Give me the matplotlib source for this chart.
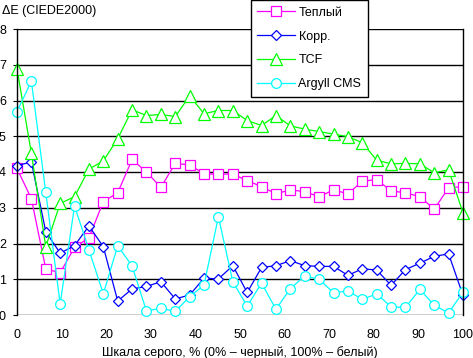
import numpy as np
import matplotlib
matplotlib.use("Agg")
import matplotlib.pyplot as plt

plt.rcParams["font.family"] = ["Liberation Sans", "DejaVu Sans"]

# grey scale steps, % (32 points)
x_pct = np.arange(32) / 31 * 100

warm = [4.1, 3.25, 1.29, 1.18, 1.89, 2.16, 3.17, 3.42, 4.35, 4.0, 3.57, 4.24,
        4.2, 3.95, 3.94, 3.94, 3.76, 3.59, 3.39, 3.5, 3.45, 3.31, 3.5, 3.39,
        3.74, 3.79, 3.47, 3.42, 3.31, 2.96, 3.56, 3.59]
korr = [4.18, 4.28, 2.33, 1.73, 1.94, 2.49, 1.91, 0.39, 0.73, 0.8, 0.93, 0.45,
        0.56, 1.03, 1.01, 1.38, 0.63, 1.33, 1.38, 1.52, 1.38, 1.36, 1.36, 1.11,
        1.29, 1.26, 0.83, 1.27, 1.45, 1.64, 1.71, 0.55]
tcf = [6.89, 4.52, 1.91, 3.12, 3.31, 4.08, 4.31, 4.93, 5.74, 5.58, 5.61, 5.55,
       6.13, 5.63, 5.72, 5.72, 5.44, 5.3, 5.58, 5.29, 5.2, 5.13, 5.06, 4.99,
       4.82, 4.33, 4.23, 4.24, 4.23, 3.98, 4.06, 2.86]
argyll = [5.69, 6.54, 3.43, 0.31, 3.05, 1.82, 0.59, 1.94, 1.37, 0.11, 0.19, 0.1,
          0.51, 0.84, 2.75, 0.93, 0.25, 0.89, 0.16, 0.74, 1.09, 1.0, 0.62, 0.67,
          0.44, 0.59, 0.23, 0.21, 0.72, 0.27, 0.06, 0.64]

series = [
    ("Теплый", warm, "#FF00FF", "s", 7),
    ("Корр.", korr, "#0000FF", "D", 5.5),
    ("TCF", tcf, "#00FF00", "^", 8),
    ("Argyll CMS", argyll, "#00FFFF", "o", 7),
]

fig = plt.figure(figsize=(4.73, 3.58), dpi=100)
ax = fig.add_axes([17 / 473, 43 / 358, 446 / 473, 286 / 358])

for label, vals, color, marker, ms in series:
    ax.plot(x_pct, vals, color=color, lw=0.9, marker=marker, ms=ms,
            markerfacecolor="white", markeredgecolor=color, markeredgewidth=0.9,
            label=label, clip_on=False)

ax.set_xlim(0, 100)
ax.set_ylim(0, 8)
ax.set_xticks(range(0, 101, 10))
ax.set_yticks(range(0, 9))
ax.tick_params(axis="both", labelsize=9, length=3, width=0.8, pad=5)
ax.tick_params(axis="x", length=0, pad=10)
ax.grid(axis="y", color="black", lw=1)
ax.set_axisbelow(True)
for side in ["top", "bottom"]:
    ax.spines[side].set_visible(False)
for side in ["left", "right"]:
    ax.spines[side].set_linewidth(1)

ax.set_xlabel("Шкала серого, % (0% – черный, 100% – белый)", fontsize=9, labelpad=4)
fig.text(2 / 473, 1 - 11 / 358, "ΔE (CIEDE2000)", fontsize=9, va="center", ha="left")

leg = ax.legend(loc="upper left", bbox_to_anchor=(234 / 446, 1.1), fontsize=9,
                frameon=True, fancybox=False, edgecolor="black", framealpha=1,
                borderpad=0.5, labelspacing=0.95, handlelength=3.0,
                handletextpad=0.3, borderaxespad=0)
leg.get_frame().set_linewidth(1)

fig.savefig("out.png", dpi=100)
